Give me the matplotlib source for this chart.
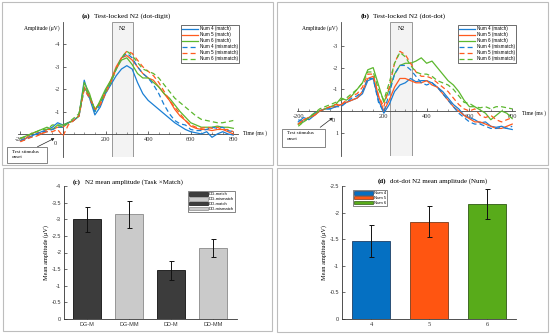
import matplotlib
matplotlib.use("Agg")
import matplotlib.pyplot as plt
from matplotlib.patches import Rectangle

plt.rcParams['axes.unicode_minus'] = False

W, H = 550, 336
SERIF = 'Liberation Serif'
SANS = 'Liberation Sans'

# ERP time grid (ms)
times = list(range(-200, 801, 25))

# (a) dot-digit waveforms, uV (negative up)
a_num4_match = [0.3, 0.2, 0.1, 0.0, -0.1, -0.2, -0.3, -0.5, -0.4, -0.5, -0.6, -0.8, -2.4, -1.6, -0.85, -1.2,
                -1.8, -2.2, -2.6, -2.9, -3.05, -2.9, -2.3, -1.8, -1.5, -1.3, -1.1, -0.9, -0.7, -0.5, -0.35,
                -0.2, -0.1, -0.05, 0.0, -0.1, 0.15, 0.0, -0.1, 0.0, 0.05]
a_num5_match = [0.3, 0.2, 0.0, -0.1, 0.0, -0.2, -0.2, -0.3, -0.3, -0.5, -0.6, -0.8, -2.1, -1.7, -1.1, -1.4,
                -1.9, -2.4, -3.0, -3.4, -3.5, -3.3, -3.0, -2.7, -2.5, -2.4, -2.1, -1.8, -1.5, -1.1, -0.8,
                -0.6, -0.35, -0.25, -0.2, -0.2, -0.15, -0.2, -0.2, -0.1, 0.0]
a_num6_match = [0.2, 0.1, 0.0, -0.1, -0.2, -0.3, -0.2, -0.4, -0.4, -0.5, -0.6, -0.8, -2.3, -1.8, -1.0, -1.5,
                -2.0, -2.4, -2.9, -3.3, -3.4, -3.1, -2.7, -2.5, -2.5, -2.3, -2.1, -1.8, -1.6, -1.3, -1.0,
                -0.75, -0.5, -0.4, -0.3, -0.3, -0.3, -0.35, -0.3, -0.3, -0.25]
a_num4_mis = [0.3, 0.2, 0.15, 0.0, -0.1, -0.1, -0.2, -0.3, -0.3, -0.5, -0.6, -0.8, -2.0, -1.6, -1.0, -1.3,
              -1.9, -2.3, -2.9, -3.4, -3.6, -3.4, -3.0, -2.7, -2.5, -2.2, -1.8, -1.3, -0.9, -0.6, -0.45,
              -0.4, -0.2, -0.15, -0.15, -0.2, -0.3, -0.25, -0.3, -0.15, -0.1]
a_num5_mis = [0.35, 0.25, 0.15, 0.1, 0.0, -0.1, -0.1, -0.2, 0.1, -0.4, -0.6, -0.8, -2.0, -1.6, -1.1, -1.3,
              -1.8, -2.3, -2.9, -3.4, -3.7, -3.6, -3.3, -3.0, -2.8, -2.6, -2.3, -1.9, -1.5, -1.2, -0.9,
              -0.6, -0.4, -0.3, -0.25, -0.3, -0.25, -0.3, -0.2, -0.2, -0.1]
a_num6_mis = [0.2, 0.1, 0.0, -0.1, -0.2, -0.2, -0.4, -0.4, -0.3, -0.5, -0.7, -0.9, -2.1, -1.7, -1.1, -1.4,
              -1.9, -2.3, -2.9, -3.4, -3.7, -3.5, -3.2, -2.9, -2.8, -2.7, -2.5, -2.2, -1.9, -1.6, -1.4,
              -1.2, -1.0, -0.8, -0.65, -0.6, -0.55, -0.5, -0.5, -0.55, -0.6]

# (b) dot-dot waveforms
b_num4_match = [0.5, 0.3, 0.4, 0.2, 0.0, -0.1, -0.1, -0.2, -0.3, -0.4, -0.5, -0.6, -0.8, -1.4, -1.5, -0.5,
                0.1, -0.3, -0.9, -1.2, -1.3, -1.5, -1.35, -1.4, -1.4, -1.3, -1.1, -0.9, -0.6, -0.3, -0.1,
                0.2, 0.3, 0.4, 0.55, 0.5, 0.7, 0.75, 0.7, 0.8, 0.85]
b_num5_match = [0.6, 0.4, 0.3, 0.2, 0.0, -0.1, -0.2, -0.2, -0.3, -0.4, -0.5, -0.6, -0.9, -1.5, -1.6, -0.7,
                0.0, -0.5, -1.1, -1.5, -1.5, -1.4, -1.3, -1.3, -1.4, -1.2, -1.1, -0.8, -0.5, -0.2, 0.0,
                0.2, 0.35, 0.5, 0.5, 0.6, 0.7, 0.8, 0.8, 0.7, 0.6]
b_num6_match = [0.6, 0.5, 0.3, 0.1, 0.0, -0.1, -0.2, -0.3, -0.6, -0.5, -0.7, -1.0, -1.3, -1.9, -2.0, -1.2,
                -0.4, -1.0, -1.7, -2.1, -2.2, -2.2, -2.3, -2.45, -2.2, -2.3, -2.0, -1.7, -1.4, -1.2, -0.9,
                -0.5, -0.2, -0.2, -0.05, 0.1, 0.4, 0.2, 0.0, 0.1, 0.35]
b_num4_mis = [0.4, 0.5, 0.3, 0.1, 0.0, -0.1, -0.1, -0.2, -0.2, -0.4, -0.6, -0.7, -0.9, -1.5, -1.5, -0.4,
              0.05, -0.8, -1.7, -2.1, -2.1, -1.9, -1.6, -1.3, -1.2, -1.3, -1.1, -0.8, -0.5, -0.2, 0.1,
              0.3, 0.5, 0.6, 0.6, 0.7, 0.8, 0.8, 0.75, 0.8, 0.7]
b_num5_mis = [0.6, 0.4, 0.3, 0.2, 0.0, -0.1, -0.2, -0.3, -0.3, -0.5, -0.7, -0.8, -1.1, -1.7, -1.7, -0.7,
              -0.2, -1.1, -2.2, -2.75, -2.6, -2.2, -1.8, -1.6, -1.6, -1.5, -1.3, -1.1, -0.9, -0.6, -0.3,
              -0.1, 0.0, -0.1, 0.2, 0.3, 0.2, 0.4, 0.5, 0.4, 0.3]
b_num6_mis = [0.7, 0.5, 0.3, 0.1, -0.1, -0.2, -0.3, -0.4, -0.5, -0.6, -0.8, -1.0, -1.3, -1.8, -1.8, -1.0,
              -0.5, -1.3, -2.2, -2.7, -2.5, -2.1, -1.8, -1.7, -1.7, -1.6, -1.4, -1.3, -1.2, -1.0, -0.7,
              -0.4, -0.35, -0.2, -0.15, -0.2, -0.1, -0.2, -0.2, -0.15, -0.1]

series_labels = ['Num 4 (match)', 'Num 5 (match)', 'Num 6 (match)',
                 'Num 4 (mismatch)', 'Num 5 (mismatch)', 'Num 6 (mismatch)']
n2_window = (230, 330)

# (c) task x match bars
c_labels = ['DG-M', 'DG-MM', 'DD-M', 'DD-MM']
c_legend = ['DG-match', 'DG-mismatch', 'DD-match', 'DD-mismatch']
c_means = [-3.0, -3.15, -1.46, -2.14]
c_errs = [0.37, 0.40, 0.29, 0.28]

# (d) dot-dot by numerosity
d_labels = ['4', '5', '6']
d_legend = ['Num 4', 'Num 5', 'Num 6']
d_means = [-1.47, -1.83, -2.16]
d_errs = [0.30, 0.29, 0.28]

blue, orange, green = '#1a7fd4', '#ff5a1e', '#5cb82e'
line_colors = [blue, orange, green, blue, orange, green]
line_styles = ['-', '-', '-', (0, (4, 2.5)), (0, (4, 2.5)), (0, (4, 2.5))]

fig = plt.figure(figsize=(5.5, 3.36), dpi=100)


def rect(l, t, r, b):
    return [l / W, 1 - b / H, (r - l) / W, (b - t) / H]


def ftext(x, y, s, **kw):
    fig.text(x / W, 1 - y / H, s, **kw)


def frame(l, t, r, b, ec='#bdbdbd', lw=0.8):
    fig.patches.append(Rectangle((l / W, 1 - b / H), (r - l) / W, (b - t) / H,
                                 transform=fig.transFigure, fill=False, ec=ec, lw=lw))


# panel frames
frame(2, 2, 273, 165)
frame(277, 2, 548, 165)
frame(3, 168, 272, 331)
frame(277, 168, 548, 332)


def erp_panel(box, xlim, ylim, yticks, data, leg_xy, ox):
    ax = fig.add_axes(rect(*box))
    ax.set_xlim(*xlim)
    ax.set_ylim(*ylim)
    ax.patch.set_alpha(0)
    for s in ['top', 'right']:
        ax.spines[s].set_visible(False)
    ax.spines['left'].set_position(('data', 0))
    ax.spines['bottom'].set_position(('data', 0))
    for s in ['left', 'bottom']:
        ax.spines[s].set_linewidth(0.6)
        ax.spines[s].set_color('#444444')
    ax.add_patch(Rectangle((n2_window[0], ylim[1]), n2_window[1] - n2_window[0], ylim[0] - ylim[1],
                           fc='#f3f3f3', ec='#8a8a8a', lw=0.6, zorder=0))
    ax.text(sum(n2_window) / 2, ylim[1] + 0.3, 'N2', ha='center', va='center',
            fontsize=4.3, family=SERIF)
    handles = []
    for vals, c, ls, lab in zip(data, line_colors, line_styles, series_labels):
        h, = ax.plot(times, vals, color=c, ls=ls, lw=0.9, label=lab, zorder=3)
        handles.append(h)
    ax.set_xticks([-200, 0, 200, 400, 600, 800])
    ax.set_xticklabels(['-200', '', '200', '400', '600', '800'])
    ax.set_xticks(range(-200, 801, 50), minor=True)
    ax.set_yticks(yticks)
    ax.set_yticklabels([str(v) for v in yticks])
    ax.tick_params(axis='both', which='major', direction='in', length=2, width=0.5,
                   labelsize=4.6, pad=2, colors='#333333')
    ax.tick_params(axis='x', which='minor', direction='in', length=1.5, width=0.4, colors='#444444')
    for lab in ax.get_xticklabels() + ax.get_yticklabels():
        lab.set_family(SERIF)
    ax.text(-38, 0.42, '0', ha='center', va='center', fontsize=4.6, family=SERIF, color='#333333')
    leg = ax.legend(handles=handles, loc='upper left', bbox_to_anchor=(leg_xy[0] / W, 1 - leg_xy[1] / H),
                    bbox_transform=fig.transFigure, borderaxespad=0,
                    prop={'family': SANS, 'size': 3.3}, handlelength=3.5, labelspacing=0.22,
                    borderpad=0.3, handletextpad=0.3, fancybox=False, framealpha=1,
                    edgecolor='#333333')
    leg.get_frame().set_linewidth(0.5)
    ftext(ox + 60, 28, 'Amplitude (\u03bcV)', ha='right', va='center', fontsize=4, family=SERIF)
    return ax


erp_panel((18, 22, 238, 157), (-211, 822), (1.03, -5.0), [-4, -3, -2, -1],
          [a_num4_match, a_num5_match, a_num6_match, a_num4_mis, a_num5_mis, a_num6_mis],
          (181, 25), 0)
erp_panel((297, 22, 515, 156), (-206, 813), (2.07, -4.1), [-3, -2, -1, 1],
          [b_num4_match, b_num5_match, b_num6_match, b_num4_mis, b_num5_mis, b_num6_mis],
          (458, 25), 278)

# titles and labels for ERP panels
ftext(82, 16, '(a)', ha='left', va='center', fontsize=5.2, family=SERIF, weight='bold')
ftext(94, 16, 'Test-locked N2 (dot-digit)', ha='left', va='center', fontsize=5.2, family=SERIF)
ftext(361, 16, '(b)', ha='left', va='center', fontsize=5.2, family=SERIF, weight='bold')
ftext(373, 16, 'Test-locked N2 (dot-dot)', ha='left', va='center', fontsize=5.2, family=SERIF)
ftext(243, 133, 'Time (ms )', ha='left', va='center', fontsize=4, family=SERIF)
ftext(522, 113, 'Time (ms )', ha='left', va='center', fontsize=4, family=SERIF)

# onset boxes with arrows
for (l, t, r, b), (x0, y0, x1, y1) in [((7, 147, 47, 163), (35, 148, 57, 137)),
                                       ((282, 129, 325, 147), (318, 129, 335, 116))]:
    frame(l, t, r, b, ec='#555555', lw=0.5)
    ftext(l + 5, t + 4.5, 'Test stimulus', ha='left', va='center', fontsize=3.6, family=SERIF)
    ftext(l + 5, t + 10.5, 'onset', ha='left', va='center', fontsize=3.6, family=SERIF)
    fig.add_artist(matplotlib.patches.FancyArrowPatch(
        (x0 / W, 1 - y0 / H), (x1 / W, 1 - y1 / H), transform=fig.transFigure,
        arrowstyle='-|>', mutation_scale=4, lw=0.5, color='#222222'))


def bar_panel(box, xpos, means, errs, colors, edges, ylim, yticks, xlabels, width):
    ax = fig.add_axes(rect(*box))
    bars = ax.bar(xpos, means, width=width, color=colors, edgecolor=edges, linewidth=0.6, zorder=2)
    ax.errorbar(xpos, means, yerr=errs, fmt='none', ecolor='#111111', elinewidth=0.7,
                capsize=1.8, capthick=0.7, zorder=3)
    ax.set_ylim(*ylim)
    ax.set_yticks(yticks)
    ax.set_yticklabels(['0' if v == 0 else ('%g' % v) for v in yticks])
    ax.set_xticks(xpos)
    ax.set_xticklabels(xlabels)
    for s in ['top', 'right']:
        ax.spines[s].set_visible(False)
    for s in ['left', 'bottom']:
        ax.spines[s].set_linewidth(0.6)
        ax.spines[s].set_color('#333333')
    ax.tick_params(direction='in', length=2, width=0.5, labelsize=4, pad=2, colors='#333333')
    for lab in ax.get_xticklabels() + ax.get_yticklabels():
        lab.set_family(SANS)
    ax.set_ylabel('Mean amplitude (\u03bcV)', fontsize=4.5, family=SERIF, labelpad=2)
    return ax, bars


c_pos = [1, 2, 3, 4]
dark, light = '#3c3c3c', '#cacaca'
c_colors = [dark, light, dark, light]
c_edges = ['#111111', '#8a8a8a', '#111111', '#8a8a8a']
axc, bars_c = bar_panel((64, 186, 237, 319), c_pos, c_means, c_errs, c_colors, c_edges,
                        (0, -4), [0, -0.5, -1, -1.5, -2, -2.5, -3, -3.5, -4], c_labels, 0.67)
axc.set_xlim(0.45, 4.57)
axc.legend([Rectangle((0, 0), 1, 1, fc=fc, ec=ec, lw=0.5) for fc, ec in zip(c_colors, c_edges)],
           c_legend, loc='upper left', bbox_to_anchor=(188 / W, 1 - 191 / H),
           bbox_transform=fig.transFigure, borderaxespad=0, prop={'family': SANS, 'size': 3},
           handlelength=4.5, handleheight=0.9, labelspacing=0.15, borderpad=0.3, handletextpad=0.2,
           fancybox=False, framealpha=1, edgecolor='#555555').get_frame().set_linewidth(0.5)
ftext(73, 182, '(c)', ha='left', va='center', fontsize=5, family=SERIF, weight='bold')
ftext(85, 182, 'N2 mean amplitude (Task \u00d7Match)', ha='left', va='center', fontsize=5,
      family=SERIF)

d_pos = [1, 2, 3]
d_colors = ['#0570c2', '#ff5511', '#58ab1a']
d_edges = ['#1d3f66', '#7a3a1a', '#2f5a14']
axd, bars_d = bar_panel((342, 186, 516, 319), d_pos, d_means, d_errs, d_colors, d_edges,
                        (0, -2.5), [0, -0.5, -1, -1.5, -2, -2.5], d_labels, 0.65)
axd.set_xlim(0.5, 3.5)
for lab in axd.get_xticklabels():
    lab.set_family(SERIF)
    lab.set_fontsize(4.6)
axd.legend([Rectangle((0, 0), 1, 1, fc=fc, ec=ec, lw=0.5) for fc, ec in zip(d_colors, d_edges)],
           d_legend, loc='upper left', bbox_to_anchor=(353 / W, 1 - 190 / H),
           bbox_transform=fig.transFigure, borderaxespad=0, prop={'family': SANS, 'size': 3},
           handlelength=4.5, handleheight=0.9, labelspacing=0.15, borderpad=0.3, handletextpad=0.2,
           fancybox=False, framealpha=1, edgecolor='#555555').get_frame().set_linewidth(0.5)
ftext(378, 181, '(d)', ha='left', va='center', fontsize=5, family=SERIF, weight='bold')
ftext(390, 181, 'dot-dot N2 mean amplitude (Num)', ha='left', va='center', fontsize=5,
      family=SERIF)

fig.savefig('out.png', dpi=100)
